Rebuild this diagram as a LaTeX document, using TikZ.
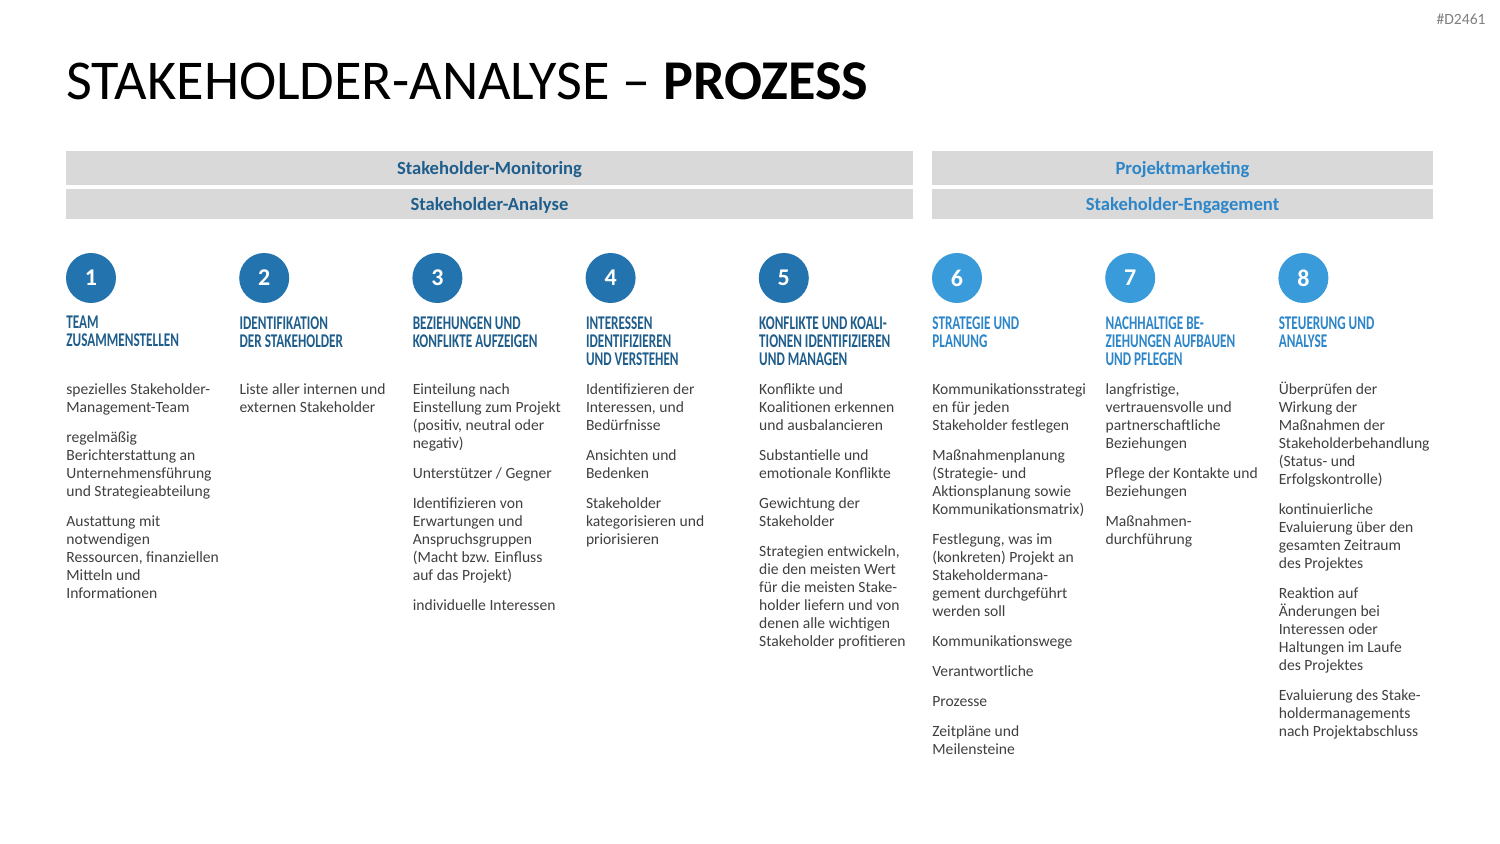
\documentclass[tikz,border=0pt]{standalone}
\usepackage{fontspec}
\setmainfont{Carlito}
\newfontfamily\headfont[FakeStretch=0.68]{Carlito}
\usepackage{xcolor}
\usepackage{tikz}
\usetikzlibrary{positioning}
\definecolor{darkblue}{HTML}{2373AE}
\definecolor{lightblue}{HTML}{3A9BDB}
\definecolor{darkhead}{HTML}{1F5E8C}
\definecolor{lighthead}{HTML}{2C86C9}
\definecolor{barfill}{HTML}{D9D9D9}
\definecolor{bodygray}{HTML}{404040}
\definecolor{taggray}{HTML}{808080}
\tikzset{
  numcirc/.style={circle, fill=#1, minimum size=25pt, inner sep=0pt, text=white,
    font=\fontsize{12}{12}\selectfont\bfseries},
  headtxt/.style={anchor=north west, inner sep=0pt, align=left, text=#1,
    font=\headfont\bfseries\fontsize{9.7}{9}\selectfont},
  bodytxt/.style={anchor=north west, inner sep=0pt, align=left, text=bodygray,
    font=\fontsize{7.8}{9}\selectfont},
  barbox/.style={fill=barfill, inner sep=0pt, text=#1, text height=6.2pt, text depth=0pt,
    font=\fontsize{9.3}{10}\selectfont\bfseries},
}

\begin{document}
\begin{tikzpicture}[x=0.5pt, y=-0.5pt]
\useasboundingbox[fill=white] (0,0) rectangle (1500,844);

\node[anchor=base east, inner sep=0pt, text=taggray, font=\fontsize{7.8}{8}\selectfont] (tag) at (1486,25) {\#D2461};
\node[anchor=base west, inner sep=0pt, text=black, font=\fontsize{28.1}{30}\selectfont] (title) at (66,100)
  {STAKEHOLDER-ANALYSE -- \textbf{PROZESS}};

\node[barbox=darkhead, minimum width=423.5pt, minimum height=17pt] (monitor) at (489.5,168) {Stakeholder-Monitoring};
\node[barbox=darkhead, minimum width=423.5pt, minimum height=15pt] (analyse) at (489.5,204) {Stakeholder-Analyse};
\node[barbox=lighthead, minimum width=250.5pt, minimum height=17pt] (marketing) at (1182.5,168) {Projektmarketing};
\node[barbox=lighthead, minimum width=250.5pt, minimum height=15pt] (engage) at (1182.5,204) {Stakeholder-Engagement};

\foreach \i/\c in {1/darkblue, 2/darkblue, 3/darkblue, 4/darkblue, 5/darkblue, 6/lightblue, 7/lightblue, 8/lightblue}
  \node[numcirc=\c] (c\i) at ({91+173.2*(\i-1)},278) {\i};

\node[headtxt=darkhead] (h1) at (66,316) {TEAM\\ZUSAMMENSTELLEN};
\node[headtxt=darkhead] (h2) at (239.2,316) {IDENTIFIKATION\\DER STAKEHOLDER};
\node[headtxt=darkhead] (h3) at (412.4,316) {BEZIEHUNGEN UND\\KONFLIKTE AUFZEIGEN};
\node[headtxt=darkhead] (h4) at (585.6,316) {INTERESSEN\\IDENTIFIZIEREN\\UND VERSTEHEN};
\node[headtxt=darkhead] (h5) at (758.8,316) {KONFLIKTE UND KOALI-\\TIONEN IDENTIFIZIEREN\\UND MANAGEN};
\node[headtxt=lighthead] (h6) at (932,316) {STRATEGIE UND\\PLANUNG};
\node[headtxt=lighthead] (h7) at (1105.2,316) {NACHHALTIGE BE-\\ZIEHUNGEN AUFBAUEN\\UND PFLEGEN};
\node[headtxt=lighthead] (h8) at (1278.4,316) {STEUERUNG UND\\ANALYSE};

\node[bodytxt] (b1) at (66,383) {spezielles Stakeholder-\\Management-Team\\[6pt]regelmäßig\\Berichterstattung an\\Unternehmensführung\\und Strategieabteilung\\[6pt]Austattung mit\\notwendigen\\Ressourcen, finanziellen\\Mitteln und\\Informationen};
\node[bodytxt] (b2) at (239.2,383) {Liste aller internen und\\externen Stakeholder};
\node[bodytxt] (b3) at (412.4,383) {Einteilung nach\\Einstellung zum Projekt\\(positiv, neutral oder\\negativ)\\[6pt]Unterstützer / Gegner\\[6pt]Identifizieren von\\Erwartungen und\\Anspruchsgruppen\\(Macht bzw. Einfluss\\auf das Projekt)\\[6pt]individuelle Interessen};
\node[bodytxt] (b4) at (585.6,383) {Identifizieren der\\Interessen, und\\Bedürfnisse\\[6pt]Ansichten und\\Bedenken\\[6pt]Stakeholder\\kategorisieren und\\priorisieren};
\node[bodytxt] (b5) at (758.8,383) {Konflikte und\\Koalitionen erkennen\\und ausbalancieren\\[6pt]Substantielle und\\emotionale Konflikte\\[6pt]Gewichtung der\\Stakeholder\\[6pt]Strategien entwickeln,\\die den meisten Wert\\für die meisten Stake-\\holder liefern und von\\denen alle wichtigen\\Stakeholder profitieren};
\node[bodytxt] (b6) at (932,383) {Kommunikationsstrategi\\en für jeden\\Stakeholder festlegen\\[6pt]Maßnahmenplanung\\(Strategie- und\\Aktionsplanung sowie\\Kommunikationsmatrix)\\[6pt]Festlegung, was im\\(konkreten) Projekt an\\Stakeholdermana-\\gement durchgeführt\\werden soll\\[6pt]Kommunikationswege\\[6pt]Verantwortliche\\[6pt]Prozesse\\[6pt]Zeitpläne und\\Meilensteine};
\node[bodytxt] (b7) at (1105.2,383) {langfristige,\\vertrauensvolle und\\partnerschaftliche\\Beziehungen\\[6pt]Pflege der Kontakte und\\Beziehungen\\[6pt]Maßnahmen-\\durchführung};
\node[bodytxt] (b8) at (1278.4,382) {Überprüfen der\\Wirkung der\\Maßnahmen der\\Stakeholderbehandlung\\(Status- und\\Erfolgskontrolle)\\[6pt]kontinuierliche\\Evaluierung über den\\gesamten Zeitraum\\des Projektes\\[6pt]Reaktion auf\\Änderungen bei\\Interessen oder\\Haltungen im Laufe\\des Projektes\\[6pt]Evaluierung des Stake-\\holdermanagements\\nach Projektabschluss};
\end{tikzpicture}
\end{document}
